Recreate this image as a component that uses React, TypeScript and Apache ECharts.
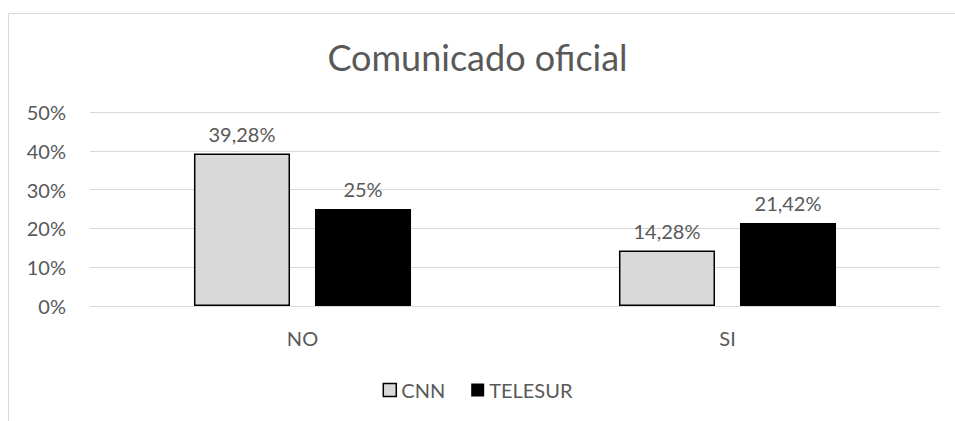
import React, { useEffect, useRef } from "react";
import * as echarts from "echarts";

const categories = ["NO", "SI"];
const cnnValues = [39.28, 14.28];
const telesurValues = [25, 21.42];
const cnnLabels = ["39,28%", "14,28%"];
const telesurLabels = ["25%", "21,42%"];
const yTicks = [0, 10, 20, 30, 40, 50];

const FONT = "Lato, 'Open Sans', sans-serif";
const FS = 20;

export default function App() {
  const ref = useRef<HTMLDivElement>(null);
  useEffect(() => {
    if (!ref.current) return;
    const chart = echarts.init(ref.current, undefined, { renderer: "svg" });
    chart.setOption({
      animation: false,
      backgroundColor: "#ffffff",
      textStyle: { fontFamily: FONT },
      title: {
        text: "Comunicado oficial",
        left: "center",
        top: 34,
        textStyle: { fontSize: 36, fontWeight: "normal", color: "#595959", fontFamily: FONT },
      },
      graphic: [
        {
          type: "rect",
          shape: { x: 8.5, y: 13.5, width: 960, height: 420 },
          style: { fill: "none", stroke: "#d9d9d9", lineWidth: 1 },
          silent: true,
        },
      ],
      legend: {
        bottom: 16,
        left: "center",
        icon: "rect",
        itemWidth: 13,
        itemHeight: 13,
        itemGap: 26,
        textStyle: { fontSize: FS, color: "#595959", fontFamily: FONT },
        data: [
          { name: "CNN", itemStyle: { color: "#d9d9d9", borderColor: "#000", borderWidth: 1.5 } },
          { name: "TELESUR", itemStyle: { color: "#000" } },
        ],
      },
      grid: { left: 90, right: 15, top: 112, bottom: 115 },
      xAxis: {
        type: "category",
        data: categories,
        axisTick: { show: false },
        axisLine: { show: true, lineStyle: { color: "#d9d9d9", width: 1 } },
        axisLabel: { fontSize: FS, color: "#595959", margin: 22, fontFamily: FONT },
      },
      yAxis: {
        type: "value",
        min: yTicks[0],
        max: yTicks[yTicks.length - 1],
        interval: 10,
        axisLine: { show: false },
        axisTick: { show: false },
        splitLine: { lineStyle: { color: "#d9d9d9", width: 1 } },
        axisLabel: { fontSize: FS, color: "#595959", margin: 24, formatter: "{value}%", fontFamily: FONT },
      },
      series: [
        {
          name: "CNN",
          type: "bar",
          data: cnnValues,
          barWidth: "22.6%",
          barGap: "26%",
          itemStyle: { color: "#d9d9d9", borderColor: "#000", borderWidth: 1.5 },
          label: {
            show: true,
            position: "top",
            distance: 10,
            fontSize: FS,
            color: "#595959",
            fontFamily: FONT,
            formatter: (p: any) => cnnLabels[p.dataIndex],
          },
        },
        {
          name: "TELESUR",
          type: "bar",
          data: telesurValues,
          barWidth: "22.6%",
          itemStyle: { color: "#000" },
          label: {
            show: true,
            position: "top",
            distance: 10,
            fontSize: FS,
            color: "#595959",
            fontFamily: FONT,
            formatter: (p: any) => telesurLabels[p.dataIndex],
          },
        },
      ],
    });
    return () => chart.dispose();
  }, []);
  return (
    <div
      ref={ref}
      style={{ position: "fixed", left: 0, top: 0, width: 955, height: 421 }}
    />
  );
}
